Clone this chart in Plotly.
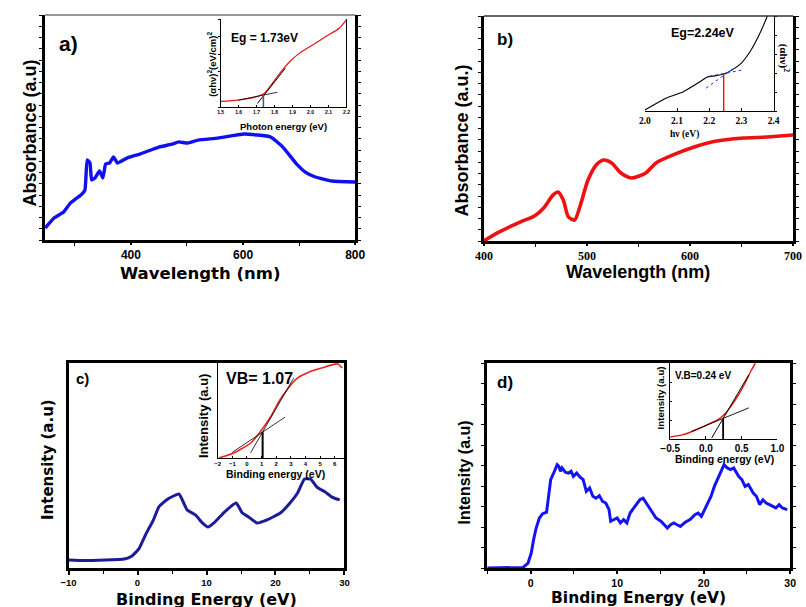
import plotly.graph_objects as go

W, H = 806, 607

# ---------------- data ----------------
# a) absorbance spectrum
a_wavelength = [247, 263, 280, 292, 301, 311, 318, 322, 327, 330, 336, 344, 350, 355, 362, 369, 376,
                393, 416, 450, 475, 485, 501, 520, 555, 602, 649, 671, 694, 711, 729, 758, 800]
a_absorbance = [0.053, 0.098, 0.124, 0.164, 0.182, 0.200, 0.222, 0.356, 0.342, 0.267, 0.276, 0.307,
                0.276, 0.338, 0.342, 0.369, 0.342, 0.364, 0.382, 0.413, 0.427, 0.436, 0.431, 0.444,
                0.453, 0.471, 0.458, 0.413, 0.342, 0.302, 0.280, 0.262, 0.258]
# a) inset Tauc plot
a_in_energy = [1.50, 1.595, 1.686, 1.74, 1.777, 1.832, 1.887, 1.941, 2.014, 2.085, 2.16, 2.20]
a_in_alpha = [0.064, 0.079, 0.109, 0.150, 0.239, 0.390, 0.520, 0.615, 0.708, 0.800, 0.895, 0.990]
a_fit1_x, a_fit1_y = [1.705, 1.86], [0.04, 0.44]
a_fit2_x, a_fit2_y = [1.60, 1.815], [0.079, 0.167]
a_eg_x, a_eg_y = [1.738, 1.738], [0.0, 0.135]

# b) absorbance spectrum
b_wavelength = [400, 413, 435, 449, 458, 467, 472, 477, 482, 488, 493, 501, 509, 516, 524, 533, 543,
                557, 567, 583, 604, 621, 633, 652, 675, 700]
b_absorbance = [0.0, 0.036, 0.084, 0.111, 0.147, 0.204, 0.218, 0.182, 0.107, 0.093, 0.151, 0.271,
                0.338, 0.360, 0.347, 0.302, 0.280, 0.302, 0.347, 0.382, 0.418, 0.440, 0.449, 0.458,
                0.462, 0.471]
# b) inset
b_in_energy = [2.0, 2.027, 2.067, 2.118, 2.17, 2.194, 2.218, 2.245, 2.27, 2.30, 2.324, 2.352, 2.376, 2.39]
b_in_alpha = [0.01, 0.063, 0.137, 0.200, 0.305, 0.358, 0.370, 0.390, 0.430, 0.505, 0.610, 0.780, 0.960, 1.08]
b_fit1_x, b_fit1_y = [2.19, 2.28], [0.24, 0.46]
b_fit2_x, b_fit2_y = [2.20, 2.30], [0.365, 0.43]
b_eg_x, b_eg_y = [2.245, 2.245], [0.0, 0.39]

# c) valence band spectrum
c_energy = [-10, -7.6, -1.9, -0.8, 0.2, 1.3, 2.3, 3.1, 4.4, 6.0, 6.5, 7.2, 8.4, 9.4, 10.2, 11.2, 12.6,
            14.3, 15.2, 16.1, 17.3, 18.7, 20.7, 22.1, 23.2, 24.2, 25.1, 26.0, 27.2, 28.2, 29.3]
c_intensity = [0.039, 0.036, 0.044, 0.059, 0.093, 0.171, 0.234, 0.298, 0.337, 0.361, 0.332, 0.283,
               0.259, 0.220, 0.200, 0.224, 0.273, 0.317, 0.268, 0.249, 0.220, 0.234, 0.268, 0.317,
               0.366, 0.434, 0.434, 0.395, 0.371, 0.346, 0.332]
# c) inset
c_in_energy = [-1.9, -0.9, 0.25, 0.9, 1.6, 2.25, 2.9, 3.45, 4.25, 5.1, 6.2, 6.5]
c_in_int = [0.003, 0.053, 0.158, 0.274, 0.430, 0.610, 0.750, 0.840, 0.905, 0.947, 0.990, 0.947]
c_fit1_x, c_fit1_y = [0.25, 3.2], [0.055, 0.843]
c_fit2_x, c_fit2_y = [-1.0, 2.6], [0.06, 0.43]
c_vb_x, c_vb_y = [1.07, 1.07], [0.0, 0.274]

# d) valence band spectrum
d_energy = [-5.0, -0.86, -0.3, 0.07, 0.34, 0.64, 1.01, 1.39, 1.84, 2.06, 2.32, 2.58, 2.88, 3.07, 3.26,
            3.45, 3.63, 4.01, 4.38, 4.68, 4.94, 5.32, 5.69, 6.07, 6.44, 6.82, 7.19, 7.57, 7.94, 8.31,
            8.69, 9.06, 9.25, 9.63, 10.0, 10.37, 10.75, 11.12, 11.5, 12.06, 12.62, 13.0, 13.37, 13.93,
            14.49, 15.06, 15.43, 15.81, 16.18, 16.55, 16.93, 17.3, 17.87, 18.43, 18.99, 19.36, 19.74,
            20.11, 20.49, 20.86, 21.24, 21.8, 22.36, 22.73, 23.11, 23.48, 24.04, 24.42, 24.79, 25.17,
            25.73, 26.1, 26.48, 26.85, 27.23, 27.6, 27.98, 28.35, 28.73, 29.1, 29.66]
d_intensity = [0.0, 0.003, 0.024, 0.073, 0.138, 0.195, 0.244, 0.265, 0.272, 0.350, 0.431, 0.455, 0.480,
               0.504, 0.496, 0.472, 0.488, 0.467, 0.463, 0.472, 0.447, 0.463, 0.444, 0.431, 0.374,
               0.390, 0.350, 0.341, 0.353, 0.325, 0.317, 0.285, 0.228, 0.236, 0.244, 0.220, 0.236,
               0.220, 0.268, 0.301, 0.333, 0.341, 0.317, 0.285, 0.244, 0.228, 0.211, 0.195, 0.211,
               0.220, 0.211, 0.203, 0.223, 0.236, 0.260, 0.268, 0.252, 0.285, 0.317, 0.350, 0.398,
               0.447, 0.504, 0.488, 0.480, 0.488, 0.447, 0.431, 0.398, 0.407, 0.366, 0.350, 0.309,
               0.333, 0.317, 0.309, 0.301, 0.293, 0.309, 0.293, 0.285]
# d) inset
d_in_energy = [-0.5, -0.32, -0.136, 0.045, 0.18, 0.273, 0.364, 0.455, 0.545, 0.636, 0.69]
d_in_int = [0.026, 0.057, 0.122, 0.200, 0.262, 0.340, 0.450, 0.580, 0.734, 0.908, 0.996]
d_fit1_x, d_fit1_y = [0.08, 0.60], [0.014, 0.846]
d_fit2_x, d_fit2_y = [-0.2, 0.60], [0.10, 0.41]
d_vb_x, d_vb_y = [0.24, 0.24], [0.0, 0.27]

# ---------------- helpers ----------------
def fx(p):
    return p / W


def fy(p):
    return 1 - p / H


SANS = "Liberation Sans"
VERD = "DejaVu Sans"
SERIF = "Liberation Serif"

fig = go.Figure()


def line(x, y, ax, color, width, shape="linear", dash=None, smoothing=0.6):
    ln = dict(color=color, width=width, shape=shape)
    if shape == "spline":
        ln["smoothing"] = smoothing
    if dash:
        ln["dash"] = dash
    fig.add_trace(go.Scatter(x=x, y=y, mode="lines", line=ln, xaxis="x" + ax, yaxis="y" + ax,
                             showlegend=False, hoverinfo="skip"))


# a
line(a_wavelength, a_absorbance, "", "#1010ee", 3.4, "spline", smoothing=0.4)
line(a_in_energy, a_in_alpha, "2", "#ee1111", 1.2, "spline")
line(a_fit1_x, a_fit1_y, "2", "black", 1.0)
line(a_fit2_x, a_fit2_y, "2", "black", 0.8)
line(a_eg_x, a_eg_y, "2", "#555555", 1.5)
# b
line(b_wavelength, b_absorbance, "3", "#ee1111", 3.6, "spline", smoothing=0.7)
line(b_in_energy, b_in_alpha, "4", "black", 1.1, "spline", smoothing=0.4)
line(b_fit1_x, b_fit1_y, "4", "#2233ee", 1.0, dash="dot")
line(b_fit2_x, b_fit2_y, "4", "#2233ee", 1.0, dash="dot")
line(b_eg_x, b_eg_y, "4", "#ee1111", 1.4)
# c
line(c_energy, c_intensity, "5", "#1c1c96", 3.0, "spline", smoothing=0.4)
line(c_in_energy, c_in_int, "6", "#ee2222", 1.6, "spline")
line(c_fit1_x, c_fit1_y, "6", "black", 0.8)
line(c_fit2_x, c_fit2_y, "6", "black", 0.8)
line(c_vb_x, c_vb_y, "6", "black", 2.0)
# d
line(d_energy, d_intensity, "7", "#1414f0", 3.0)
line(d_in_energy, d_in_int, "8", "#ee1111", 1.4, "spline")
line(d_fit1_x, d_fit1_y, "8", "black", 1.0)
line(d_fit2_x, d_fit2_y, "8", "black", 0.9)
line(d_vb_x, d_vb_y, "8", "black", 1.8)


def main_x(dom, rng, anchor, dtick, mdtick, font, mirror=True, ticklen=4):
    return dict(domain=dom, range=rng, anchor=anchor, showline=True, linewidth=3, linecolor="black",
                mirror=mirror, ticks="outside", ticklen=ticklen, tickwidth=1.5, tickcolor="black",
                tick0=0, dtick=dtick, tickfont=font, showgrid=False, zeroline=False,
                ticklabelstandoff=0,
                minor=dict(dtick=mdtick, ticks="outside", ticklen=3, tickwidth=1.2,
                           tickcolor="black", showgrid=False))


def main_y(dom, anchor, dtick=0.05, ticks="outside"):
    return dict(domain=dom, range=[0, 1], anchor=anchor, showline=True, linewidth=3, linecolor="black",
                mirror="allticks", ticks=ticks, ticklen=3, tickwidth=1, tickcolor="black",
                tick0=0, dtick=dtick, showticklabels=False, showgrid=False, zeroline=False)


def inset_x(dom, rng, anchor, dtick, font, fmt=None, ticklen=2):
    d = dict(domain=dom, range=rng, anchor=anchor, showline=True, linewidth=1.2, linecolor="black",
             ticks="inside", ticklen=ticklen, tickwidth=0.8, tickcolor="black", tick0=0, dtick=dtick,
             tickfont=font, showgrid=False, zeroline=False, ticklabelstandoff=0)
    if fmt:
        d["tickformat"] = fmt
    return d


def inset_y(dom, anchor, side="left", ticks="", dtick=0.2, mirror=False):
    return dict(domain=dom, range=[0, 1], anchor=anchor, side=side, showline=True, linewidth=1.2,
                linecolor="black", ticks=ticks, ticklen=2, tickwidth=0.8, tickcolor="black",
                tick0=0, dtick=dtick, showticklabels=False, showgrid=False, zeroline=False,
                mirror=mirror)


bold = "bold"
layout = dict(
    width=W, height=H, margin=dict(l=0, r=0, t=0, b=0),
    paper_bgcolor="white", plot_bgcolor="rgba(0,0,0,0)", showlegend=False,
    # a
    xaxis=main_x([fx(36), fx(354)], [247, 800], "y", 200, 100,
                 dict(family=SANS, size=12, color="black", weight=bold), mirror=False, ticklen=2),
    yaxis=main_y([fy(240), fy(15)], "x"),
    xaxis2=inset_x([fx(216), fx(345)], [1.5, 2.2], "y2", 0.1,
                   dict(family=SANS, size=5, color="black", weight=bold), ".1f"),
    yaxis2=inset_y([fy(107), fy(19)], "x2", mirror=True, ticks="outside"),
    # b
    xaxis3=main_x([fx(486), fx(803)], [400, 700], "y3", 100, 50,
                  dict(family=SERIF, size=12, color="black", weight=bold), mirror=False, ticklen=2),
    yaxis3=main_y([fy(241), fy(16)], "x3"),
    xaxis4=inset_x([fx(651), fx(783)], [2.0, 2.4], "y4", 0.1,
                   dict(family=SERIF, size=9.5, color="black", weight=bold), ".1f", ticklen=3),
    yaxis4=inset_y([fy(111), fy(16)], "x4", side="right", ticks="outside", dtick=0.2),
    # c
    xaxis5=main_x([fx(60), fx(343)], [-10, 30], "y5", 10, 5,
                  dict(family=SANS, size=9.5, color="black", weight=bold)),
    yaxis5=main_y([fy(568), fy(363)], "x5", ticks=""),
    xaxis6=inset_x([fx(213), fx(342)], [-2, 6.6], "y6", 1,
                   dict(family=SANS, size=6, color="black", weight=bold)),
    yaxis6=inset_y([fy(458), fy(363)], "x6"),
    # d
    xaxis7=main_x([fx(489), fx(800)], [-5.06, 30], "y7", 10, 5,
                  dict(family=SANS, size=10.5, color="black", weight=bold), ticklen=3),
    yaxis7=main_y([fy(568), fy(363)], "x7", dtick=0.1),
    xaxis8=inset_x([fx(677), fx(787)], [-0.5, 1.0], "y8", 0.5,
                   dict(family=SANS, size=10, color="black", weight=bold), ".1f", ticklen=3),
    yaxis8=inset_y([fy(439), fy(363)], "x8", ticks="inside", dtick=0.25),
)
fig.update_layout(**layout)

# thin top frame lines for a) and b)
fig.add_shape(type="line", xref="paper", yref="paper", x0=fx(36), x1=fx(354), y0=fy(15), y1=fy(15),
              line=dict(color="#333333", width=1.2))
fig.add_shape(type="line", xref="paper", yref="paper", x0=fx(486), x1=fx(803), y0=fy(16), y1=fy(16),
              line=dict(color="#333333", width=1.5))


def txt(s, x, y, size, family=SANS, angle=0):
    fig.add_annotation(text=s, x=fx(x), y=fy(y), xref="paper", yref="paper", showarrow=False,
                       xanchor="center", yanchor="middle", textangle=angle,
                       font=dict(family=family, size=size, color="black", weight="bold"))


# a
txt("a)", 60, 44, 21)
txt("Absorbance (a.u)", 20, 133, 18, angle=-90)
txt("Wavelength (nm)", 195, 273, 16.5, VERD)
txt("Eg = 1.73eV", 261, 38, 12)
txt("(αhν)<sup>2</sup>(eV/cm)<sup>2</sup>", 207, 64, 9.5, angle=-90)
txt("Photon energy (eV)", 280, 126, 9.5)
# b
txt("b)", 508, 39, 17)
txt("Absorbance (a.u.)", 464, 140, 18, angle=-90)
txt("Wavelength (nm)", 644, 272, 18)
txt("Eg=2.24eV", 711, 33, 12.5)
txt("hν (eV)", 692, 134, 9.5, SERIF)
txt("(αhν)<sup>2</sup>", 794, 58, 11, SERIF, angle=90)
# c
txt("c)", 74, 378, 15)
txt("Intensity (a.u)", 39, 460, 15, VERD, angle=-90)
txt("Binding Energy (eV)", 202, 599, 16, VERD)
txt("VB= 1.07", 256, 378, 16)
txt("Intensity (a.u)", 198, 416, 13, angle=-90)
txt("Binding energy (eV)", 272, 474, 10.5)
# d
txt("d)", 508, 382, 17)
txt("Intensity (a.u)", 466, 472, 16, angle=-90)
txt("Binding Energy (eV)", 645, 598, 15.5, VERD)
txt("V.B=0.24 eV", 711, 375, 10)
txt("Intensity (a.u)", 667, 398, 9.7, angle=-90)
txt("Binding energy (eV)", 733, 459, 10.5)

fig.write_html("out.html")
